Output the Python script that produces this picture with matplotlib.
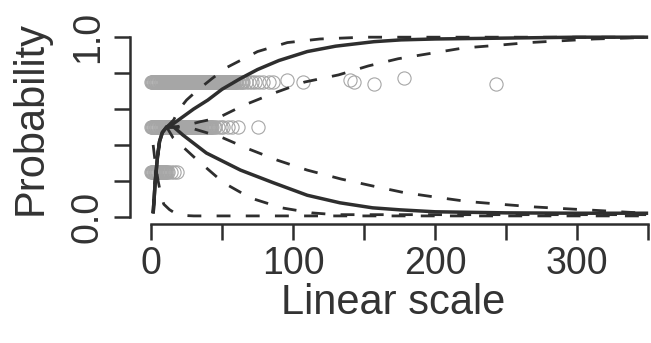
import matplotlib
matplotlib.use("Agg")
import matplotlib.pyplot as plt

# ---- observed points (three response levels) ----
x_hi = [0, 0.5, 1, 1.5, 2, 2.5, 3, 3.5, 4, 4.5, 5, 5.5, 6, 6.5, 7, 7.5, 8, 8.5, 9, 9.5,
        10, 10.5, 11, 11.5, 12, 12.5, 13, 13.5, 14, 14.5, 15, 15.5, 16, 16.5, 17, 17.5, 18, 18.5, 19, 19.5,
        20, 20.5, 21, 21.5, 22, 22.5, 23, 23.5, 24, 24.5, 25, 25.5, 26, 26.5, 27, 27.5, 28, 28.5, 29, 29.5,
        30, 30.5, 31, 31.5, 32, 32.5, 33, 33.5, 34, 34.5, 35, 35.5, 36, 36.5, 37, 37.5, 38, 38.5, 39, 39.5,
        40, 40.5, 41, 41.5, 42, 42.5, 43, 43.5, 44, 44.5, 45, 45.5, 46, 46.5, 47, 47.5, 48, 48.5, 49, 49.5,
        50, 50.5, 51, 51.5, 52, 52.5, 53, 53.5, 54, 54.5, 55, 55.5, 56, 56.5, 57, 57.5, 58, 58.5, 59, 59.5,
        60, 61, 62, 63, 64, 65, 67, 69, 71, 73, 76, 79, 83, 86, 96, 107, 140, 143, 157, 178, 243]
y_hi = [0.75] * 134 + [0.76, 0.75, 0.76, 0.75, 0.74, 0.77, 0.74]

x_mid = [0, 0.5, 1, 1.5, 2, 2.5, 3, 3.5, 4, 4.5, 5, 5.5, 6, 6.5, 7, 7.5, 8, 8.5, 9, 9.5,
         10, 10.5, 11, 11.5, 12, 12.5, 13, 13.5, 14, 14.5, 15, 15.5, 16, 16.5, 17, 17.5, 18, 18.5, 19, 19.5,
         20, 20.5, 21, 21.5, 22, 22.5, 23, 23.5, 24, 24.5, 25, 25.5, 26, 26.5, 27, 27.5, 28, 28.5, 29, 29.5,
         30, 30.5, 31, 31.5, 32, 32.5, 33, 33.5, 34, 34.5, 35, 35.5, 36, 36.5, 37, 37.5, 38, 38.5, 39, 39.5,
         40, 40.5, 41, 41.5, 42, 42.5, 43, 44, 45, 47, 49, 51, 54, 57, 61, 75]
y_mid = [0.5] * 96

x_lo = [0, 0.5, 1, 1.5, 2, 2.5, 3, 3.5, 4, 4.5, 5, 5.5, 6, 6.5, 7, 7.5, 8, 8.5, 9, 9.5,
        10, 10.5, 11, 12, 14, 16, 18]
y_lo = [0.25] * 27

# ---- fitted curves ----
inc_x = [1.5, 3, 4.5, 6, 8, 11, 16, 23, 30, 40, 50, 63, 75, 90, 110, 130, 157, 176, 200, 250, 300, 350]
inc_y = [0.02, 0.2, 0.33, 0.42, 0.47, 0.5, 0.52, 0.56, 0.6, 0.65, 0.71, 0.77, 0.82, 0.87, 0.92, 0.95, 0.975, 0.985, 0.99, 0.995, 1.0, 1.0]

inc_hi_x = [1.5, 3, 4.5, 6, 8, 11, 16, 19, 25, 32, 43, 53, 75, 96, 119, 150, 200, 350]
inc_hi_y = [0.02, 0.2, 0.33, 0.42, 0.47, 0.5, 0.54, 0.59, 0.65, 0.7, 0.77, 0.83, 0.92, 0.97, 0.99, 1.0, 1.0, 1.0]

inc_lo_x = [1.5, 3, 4.5, 6, 8, 11, 16, 25, 35, 47, 65, 87, 108, 132, 153, 174, 197, 220, 244, 266, 289, 312, 335, 350]
inc_lo_y = [0.02, 0.2, 0.33, 0.42, 0.47, 0.5, 0.5, 0.51, 0.53, 0.55, 0.62, 0.69, 0.75, 0.79, 0.84, 0.88, 0.91, 0.94, 0.955, 0.97, 0.98, 0.99, 0.995, 1.0]

dec_x = [1.5, 3, 4.5, 6, 8, 11, 16, 22.5, 39, 63, 86, 110, 133, 156, 175, 200, 250, 300, 350]
dec_y = [0.02, 0.2, 0.33, 0.42, 0.47, 0.5, 0.5, 0.455, 0.355, 0.26, 0.19, 0.12, 0.078, 0.05, 0.039, 0.028, 0.022, 0.02, 0.02]

dec_hi_x = [1.5, 3, 4.5, 6, 8, 11, 16, 30, 49, 68, 89, 110, 134, 157, 178, 200, 223, 246, 270, 292, 315, 337, 350]
dec_hi_y = [0.02, 0.2, 0.33, 0.42, 0.47, 0.5, 0.5, 0.49, 0.445, 0.38, 0.315, 0.26, 0.21, 0.17, 0.135, 0.11, 0.085, 0.07, 0.055, 0.045, 0.035, 0.025, 0.02]

dec_lo_x = [1.5, 3, 4.5, 6, 8, 11, 15.5, 21, 32, 51, 70, 92, 113, 130, 350]
dec_lo_y = [0.02, 0.2, 0.33, 0.42, 0.47, 0.5, 0.44, 0.4, 0.32, 0.19, 0.105, 0.05, 0.022, 0.012, 0.012]

bot_x = [1.5, 3, 5, 7, 9, 13, 17, 22, 30, 350]
bot_y = [0.4, 0.3, 0.2, 0.12, 0.07, 0.04, 0.02, 0.008, 0.005, 0.005]

x_ticks = [0, 50, 100, 150, 200, 250, 300, 350]
x_labels = ["0", "", "100", "", "200", "", "300", ""]
y_ticks = [0.0, 0.2, 0.4, 0.6, 0.8, 1.0]
y_labels = ["0.0", "", "", "", "", "1.0"]

plt.rcParams['font.family'] = ['Liberation Sans', 'DejaVu Sans']

fig = plt.figure(figsize=(6.51, 3.43), dpi=100)
ax = fig.add_axes([130 / 651, 1 - 224 / 343, 521 / 651, (224 - 30) / 343])

dark = "#2e2e2e"
grey = "#a6a6a6"

ms = 9.5
for xx, yy in [(x_hi, y_hi), (x_mid, y_mid), (x_lo, y_lo)]:
    ax.plot(xx, yy, linestyle="none", marker="o", ms=ms, mfc="none", mec=grey, mew=0.8)

dash = (0, (5.0, 5.5))
ax.plot(inc_x, inc_y, color=dark, lw=2.5, solid_capstyle="butt")
ax.plot(dec_x, dec_y, color=dark, lw=2.5, solid_capstyle="butt")
for xx, yy in [(inc_hi_x, inc_hi_y), (inc_lo_x, inc_lo_y), (dec_hi_x, dec_hi_y),
               (dec_lo_x, dec_lo_y), (bot_x, bot_y)]:
    ax.plot(xx, yy, color=dark, lw=2.0, linestyle=dash, dash_capstyle="butt")

ax.set_xlim(-14.8, 352)
ax.set_ylim(-0.04, 1.04)

for s in ["top", "right"]:
    ax.spines[s].set_visible(False)
ax.spines["left"].set_bounds(0, 1)
ax.spines["bottom"].set_bounds(0, 350)
for s in ["left", "bottom"]:
    ax.spines[s].set_linewidth(1.8)
    ax.spines[s].set_color(dark)

ax.set_xticks(x_ticks)
ax.set_xticklabels(x_labels)
ax.set_yticks(y_ticks)
ax.set_yticklabels(y_labels, rotation=90, va="center")
ax.tick_params(axis="both", direction="out", length=11.5, width=1.8, color=dark,
               labelsize=27, labelcolor="#333333")
ax.tick_params(axis="x", pad=4)
ax.tick_params(axis="y", pad=6)

ax.set_xlabel("Linear scale", fontsize=30, color="#333333")
ax.set_ylabel("Probability", fontsize=30, color="#333333")
ax.xaxis.set_label_coords((393 - 130) / 521, -(303 - 224) / 194, transform=ax.transAxes)
ax.yaxis.set_label_coords(-(130 - 31) / 521, (224 - 118) / 194, transform=ax.transAxes)
ax.xaxis.label.set_va("center")
ax.yaxis.label.set_va("center")

fig.savefig("out.png", dpi=100)
